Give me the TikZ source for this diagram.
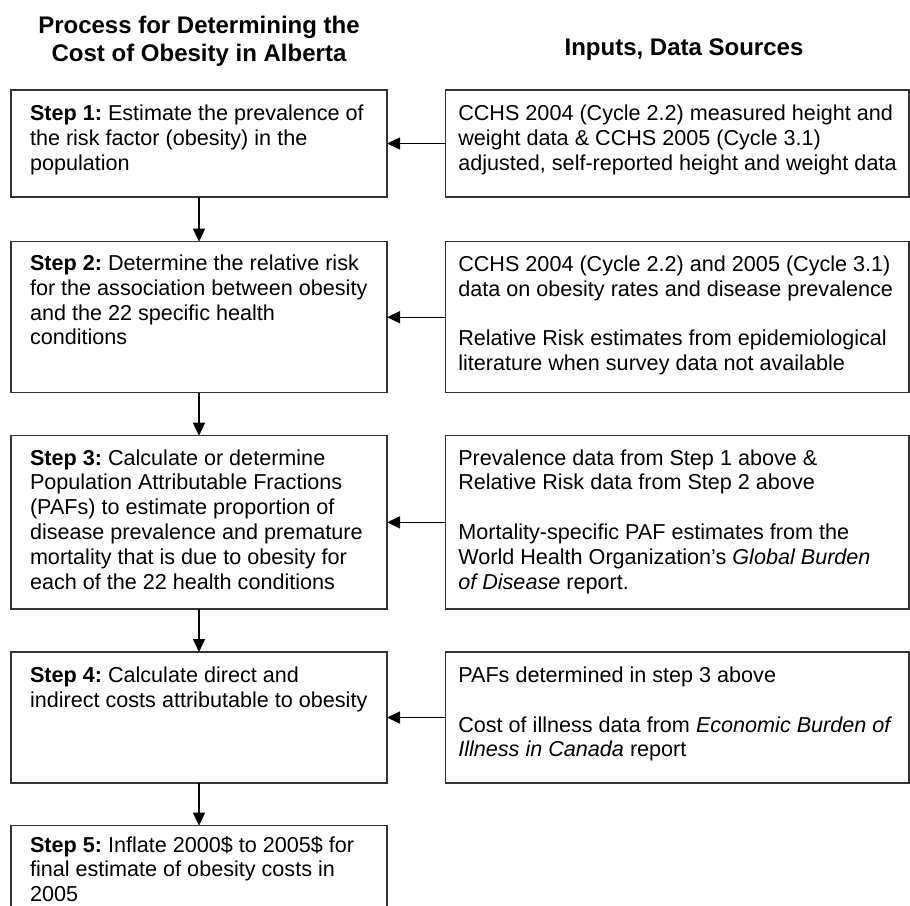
\documentclass[tikz,border=0pt]{standalone}
\usepackage{fontspec}
\setmainfont{Liberation Sans}
\usetikzlibrary{arrows.meta}
\frenchspacing
\newcommand{\bodysz}{\fontsize{21.6pt}{24.8pt}\selectfont\frenchspacing}
\newcommand{\titlesz}{\fontsize{24pt}{27.7pt}\selectfont\bfseries\frenchspacing}
\tikzset{
  box/.style={draw=black!80, line width=1.3pt, inner sep=0pt, outer sep=0pt, rectangle, anchor=north west},
  lbox/.style={box, minimum width=376pt},
  rbox/.style={box, minimum width=463.3pt},
  arr/.style={draw=black, line width=1.4pt, -{Triangle[length=13pt,width=12pt]}},
  txt/.style={anchor=base west, inner sep=0pt, outer sep=0pt, font=\bodysz},
  ttl/.style={anchor=base, inner sep=0pt, outer sep=0pt, font=\titlesz}
}
\begin{document}
\begin{tikzpicture}[x=1pt,y=-1pt]
\useasboundingbox (0,0) rectangle (910,905);
\clip (0,0) rectangle (910,905);

% titles
\node[ttl] (t1) at (199,33.3) {\begin{tabular}[t]{@{}c@{}}Process for Determining the\\Cost of Obesity in Alberta\end{tabular}};
\node[ttl] (t2) at (684,55) {Inputs, Data Sources};

% left boxes
\node[lbox, minimum height=107pt] (s1) at (11,90) {};
\node[lbox, minimum height=151pt] (s2) at (11,241.7) {};
\node[lbox, minimum height=173.3pt] (s3) at (11,435.7) {};
\node[lbox, minimum height=131pt] (s4) at (11,652) {};
\node[lbox, minimum height=130pt] (s5) at (11,825.7) {};

% right boxes
\node[rbox, minimum height=107pt] (r1) at (445.7,90) {};
\node[rbox, minimum height=151pt] (r2) at (445.7,241.7) {};
\node[rbox, minimum height=173.3pt] (r3) at (445.7,435.7) {};
\node[rbox, minimum height=131pt] (r4) at (445.7,652) {};

% left texts
\node[txt] (ts1) at (30,120.5) {\begin{tabular}[t]{@{}l@{}}\textbf{Step 1:} Estimate the prevalence of\\the risk factor (obesity) in the\\population\end{tabular}};
\node[txt] (ts2) at (30,270.5) {\begin{tabular}[t]{@{}l@{}}\textbf{Step 2:} Determine the relative risk\\for the association between obesity\\and the 22 specific health\\conditions\end{tabular}};
\node[txt] (ts3) at (30,465) {\begin{tabular}[t]{@{}l@{}}\textbf{Step 3:} Calculate or determine\\Population Attributable Fractions\\(PAFs) to estimate proportion of\\disease prevalence and premature\\mortality that is due to obesity for\\each of the 22 health conditions\end{tabular}};
\node[txt] (ts4) at (30,682.5) {\begin{tabular}[t]{@{}l@{}}\textbf{Step 4:} Calculate direct and\\indirect costs attributable to obesity\end{tabular}};
\node[txt] (ts5) at (30,852) {\begin{tabular}[t]{@{}l@{}}\textbf{Step 5:} Inflate 2000\$ to 2005\$ for\\final estimate of obesity costs in\\2005\end{tabular}};

% right texts
\node[txt] (tr1) at (458.3,120.7) {\begin{tabular}[t]{@{}l@{}}CCHS 2004 (Cycle 2.2) measured height and\\weight data \& CCHS 2005 (Cycle 3.1)\\adjusted, self-reported height and weight data\end{tabular}};
\node[txt] (tr2) at (458.3,271.5) {\begin{tabular}[t]{@{}l@{}}CCHS 2004 (Cycle 2.2) and 2005 (Cycle 3.1)\\data on obesity rates and disease prevalence\\ \\Relative Risk estimates from epidemiological\\literature when survey data not available\end{tabular}};
\node[txt] (tr3) at (458.3,465) {\begin{tabular}[t]{@{}l@{}}Prevalence data from Step 1 above \&\\Relative Risk data from Step 2 above\\ \\Mortality-specific PAF estimates from the\\World Health Organization’s \textit{Global Burden}\\\textit{of Disease} report.\end{tabular}};
\node[txt] (tr4) at (458.3,682.5) {\begin{tabular}[t]{@{}l@{}}PAFs determined in step 3 above\\ \\Cost of illness data from \textit{Economic Burden of}\\\textit{Illness in Canada} report\end{tabular}};

% connectors
\draw[arr] (r1.west) -- (s1.east);
\draw[arr] (r2.west) -- (s2.east);
\draw[arr] (r3.west) -- (s3.east);
\draw[arr] (r4.west) -- (s4.east);
\draw[arr] (s1.south) -- (s2.north);
\draw[arr] (s2.south) -- (s3.north);
\draw[arr] (s3.south) -- (s4.north);
\draw[arr] (s4.south) -- (s5.north);
\end{tikzpicture}
\end{document}
